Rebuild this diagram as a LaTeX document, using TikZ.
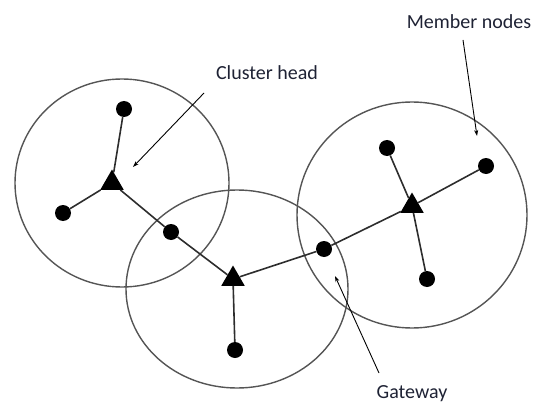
\documentclass[tikz,border=0pt]{standalone}
\usepackage{fontspec}
\setmainfont{Carlito}
\usetikzlibrary{shapes.geometric,arrows.meta}
\definecolor{txt}{RGB}{30,34,52}
\definecolor{ring}{RGB}{85,85,85}
\definecolor{link}{RGB}{45,45,45}
\tikzset{
  dot/.style={circle,fill=black,inner sep=0pt,minimum size=16pt},
  head/.style={regular polygon,regular polygon sides=3,fill=black,inner sep=0pt,minimum size=27pt},
  ring/.style={draw=ring,line width=1.4pt},
  link/.style={draw=link,line width=1.6pt},
  pointer/.style={draw=black,line width=0.9pt,-{Stealth[length=6pt,width=4pt]}},
  lbl/.style={text=txt,font=\fontsize{20}{22}\selectfont,inner sep=0pt}
}
\begin{document}
\begin{tikzpicture}[x=1pt,y=-1pt]
\useasboundingbox (0,0) rectangle (537,406);
% clusters
\draw[ring] (122,183) ellipse [x radius=107,y radius=104];
\draw[ring] (237,289) ellipse [x radius=111,y radius=99];
\draw[ring] (412,215) ellipse [x radius=115,y radius=113];
% nodes
\node[head] (h1) at (112,183) {};
\node[head] (h2) at (233,279) {};
\node[head] (h3) at (412,206) {};
\node[dot] (a1) at (124,109) {};
\node[dot] (a2) at (63,213) {};
\node[dot] (g1) at (171,232) {};
\node[dot] (b1) at (235,350) {};
\node[dot] (g2) at (324,249) {};
\node[dot] (c1) at (387,148) {};
\node[dot] (c2) at (486,166) {};
\node[dot] (c3) at (427,279) {};
% links
\draw[link] (a1) -- (h1);
\draw[link] (a2) -- (h1);
\draw[link] (h1) -- (g1);
\draw[link] (g1) -- (h2);
\draw[link] (h2) -- (b1);
\draw[link] (h2) -- (g2);
\draw[link] (g2) -- (h3);
\draw[link] (h3) -- (c1);
\draw[link] (h3) -- (c2);
\draw[link] (h3) -- (c3);
% labels
\node[lbl] (lch) at (267,73) {Cluster head};
\node[lbl] (lmn) at (469,22) {Member nodes};
\node[lbl] (lgw) at (412,394) {Gateway};
\coordinate (tch) at (204,93);
\coordinate (ech) at (133,167);
\coordinate (tmn) at (463,40);
\coordinate (emn) at (477,136);
\coordinate (tgw) at (379,373);
\coordinate (egw) at (335,276);
\draw[pointer] (tch) -- (ech);
\draw[pointer] (tmn) -- (emn);
\draw[pointer] (tgw) -- (egw);
\end{tikzpicture}
\end{document}
